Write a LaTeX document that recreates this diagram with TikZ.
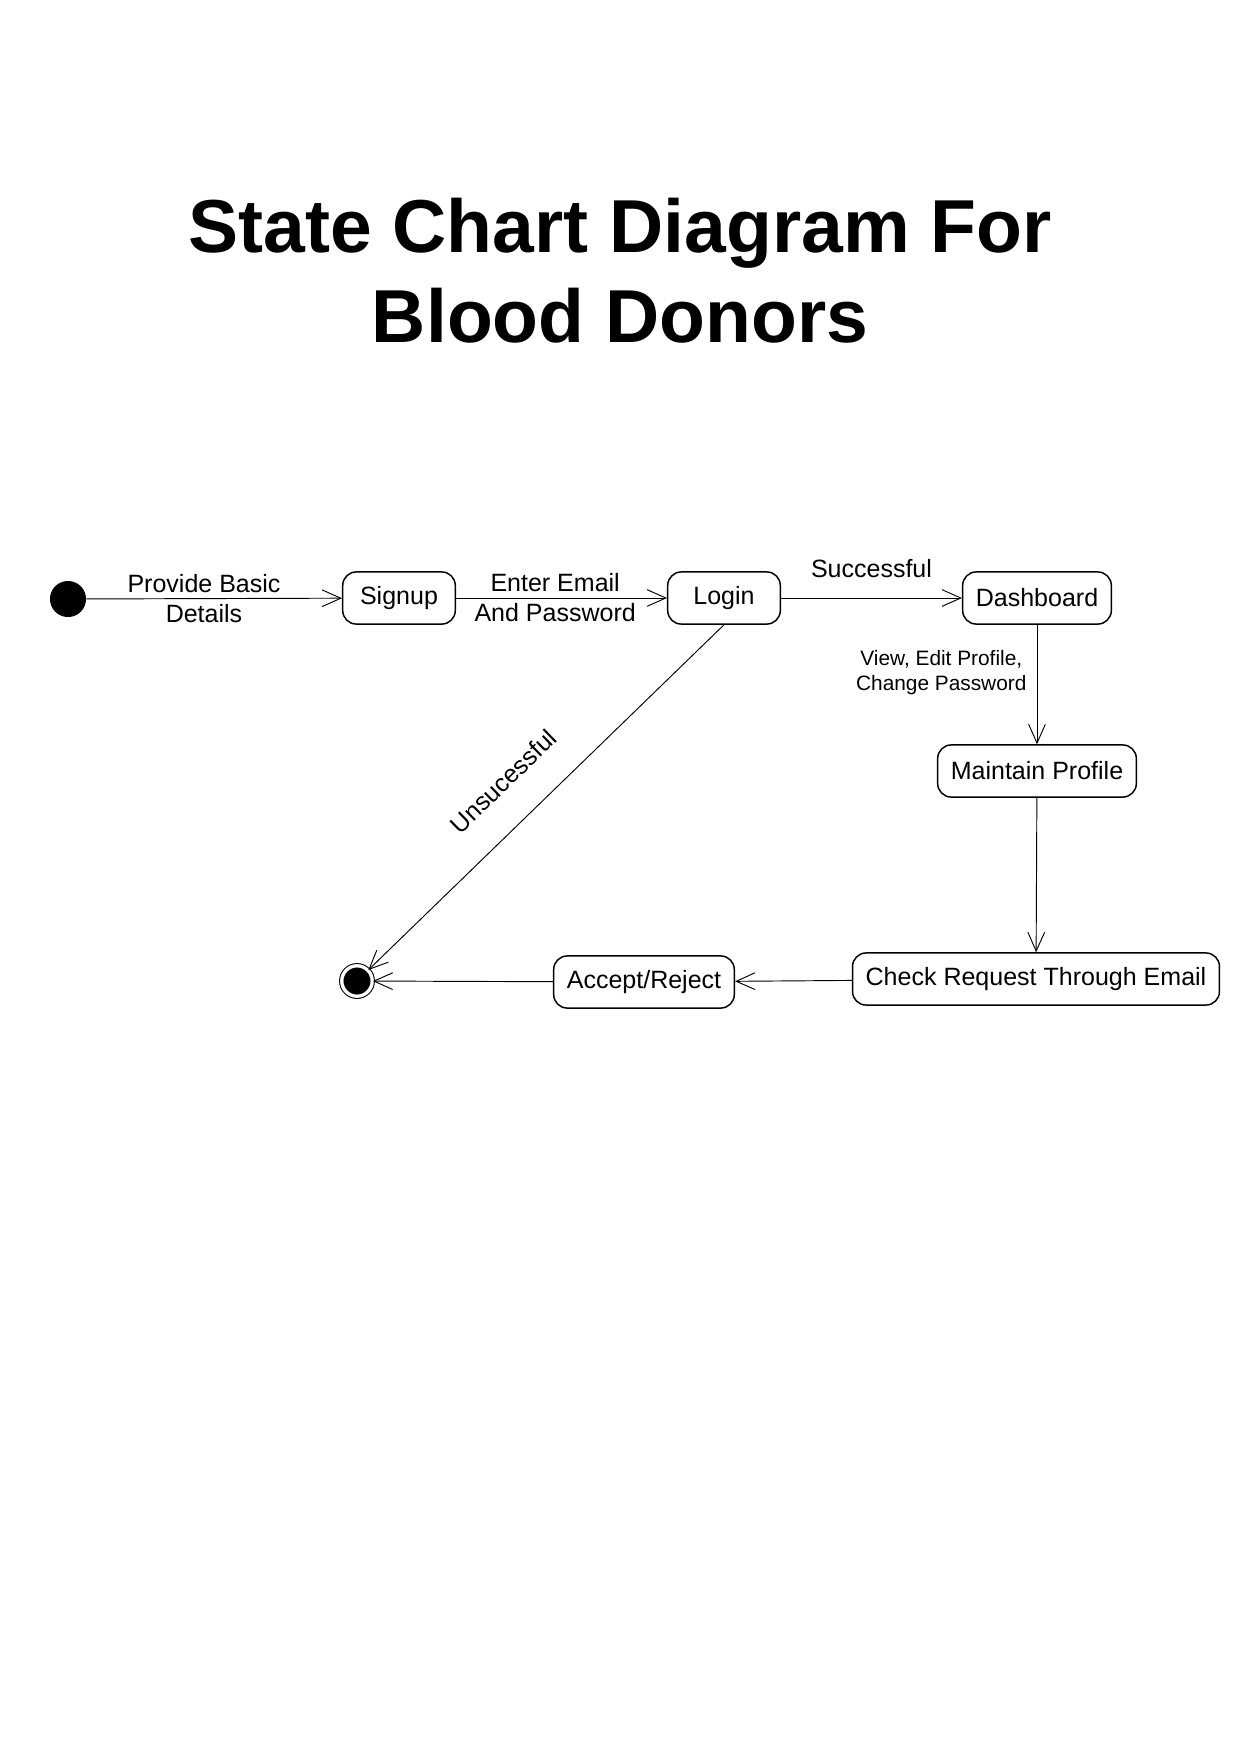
\documentclass[tikz,border=0pt]{standalone}
\usepackage{fontspec}
\setmainfont{Liberation Sans}
\usetikzlibrary{arrows.meta,positioning}

\begin{document}
\begin{tikzpicture}[
  x=0.4797pt,
  y=-0.4797pt,
  statebox/.style={draw, line width=0.7pt, rounded corners=6.5pt, minimum width=54pt,
    minimum height=25pt, inner xsep=6.3pt, font=\fontsize{12}{14.4}\selectfont},
  trans/.style={line width=0.45pt, -{Straight Barb[length=9pt,width=8pt]}},
  label/.style={font=\fontsize{12}{14.4}\selectfont, align=center},
  small/.style={font=\fontsize{10}{12}\selectfont, align=center}
]
\useasboundingbox[fill=white] (0,0) rectangle (1241,1755);
\node[font=\fontsize{36}{43.2}\selectfont\bfseries, align=center] (title) at (620,271)
  {State Chart Diagram For\\Blood Donors};
% states
\node[circle, fill=black, minimum size=17.3pt, inner sep=0pt] (start) at (68,599) {};
\node[statebox] (signup) at (399,598) {Signup};
\node[statebox] (login) at (724,598) {Login};
\node[statebox] (dash) at (1037,598) {Dashboard};
\node[statebox] (maint) at (1037,771) {Maintain Profile};
\node[statebox] (check) at (1036,979) {Check Request Through Email};
\node[statebox] (accept) at (644,982) {Accept/Reject};
\node[circle, fill=black, draw=black, double=white, double distance=1.6pt,
  line width=0.5pt, minimum size=14.6pt, inner sep=0pt] (final) at (357,981) {};
% transitions
\draw[trans] (start) -- node[label, pos=0.46] {Provide Basic\\Details} (signup);
\draw[trans] (signup) -- node[label, pos=0.47] {Enter Email\\And Password} (login);
\draw[trans] (login) -- node[label, above=6pt] {Successful} (dash);
\draw[trans] (dash) -- node[small, left=1.5pt, pos=0.4] {View, Edit Profile,\\Change Password} (maint);
\draw[trans] (maint) -- (check);
\draw[trans] (check) -- (accept);
\draw[trans] (accept) -- (final);
\draw[trans] (login.south) -- node[label, sloped, above=12pt, pos=0.54] {Unsucessful} (final);
\end{tikzpicture}
\end{document}
